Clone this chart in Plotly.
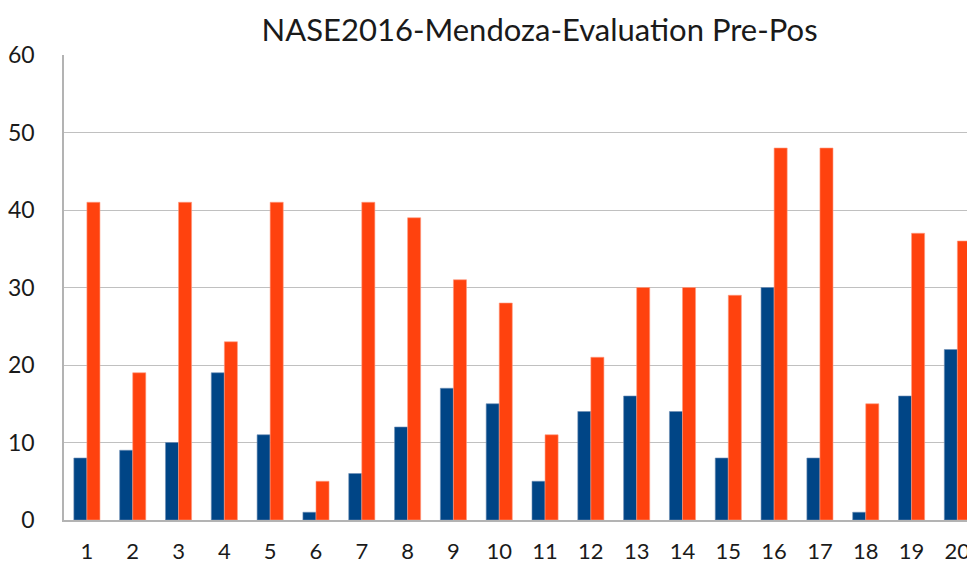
import plotly.graph_objects as go

categories = [str(i) for i in range(1, 21)]
pre_values = [8, 9, 10, 19, 11, 1, 6, 12, 17, 15, 5, 14, 16, 14, 8, 30, 8, 1, 16, 22]
pos_values = [41, 19, 41, 23, 41, 5, 41, 39, 31, 28, 11, 21, 30, 30, 29, 48, 48, 15, 37, 36]
y_ticks = [0, 10, 20, 30, 40, 50, 60]

x = list(range(1, 21))

fig = go.Figure()
fig.add_trace(go.Bar(x=x, y=pre_values, name="Pre", marker=dict(color="#004586", line=dict(color="#6f8fb5", width=0.6))))
fig.add_trace(go.Bar(x=x, y=pos_values, name="Pos", marker=dict(color="#ff420e", line=dict(color="#ff9a80", width=0.6))))

font_family = "Lato, 'Open Sans', sans-serif"
fig.update_layout(
    width=967, height=565,
    margin=dict(l=64, r=0, t=55, b=45, autoexpand=False),
    paper_bgcolor="white", plot_bgcolor="white",
    barmode="group", bargap=0.43, bargroupgap=0,
    showlegend=False,
    title=dict(text="NASE2016-Mendoza-Evaluation Pre-Pos", x=0.558, xanchor="center", y=0.947, yanchor="middle",
               font=dict(family=font_family, size=31, color="#1a1a1a")),
    font=dict(family=font_family, color="#1a1a1a"),
)
fig.update_xaxes(
    range=[0.5, 20.21], tickmode="array", tickvals=x, ticktext=categories, automargin=False,
    tickfont=dict(size=22, color="#1a1a1a"), ticks="", ticklabelstandoff=11,
    ticklabeloverflow="allow",
    showgrid=False, showline=True, linecolor="#b3b3b3", linewidth=1.5, zeroline=False,
)
fig.update_yaxes(
    range=[0, 60], tickmode="array", tickvals=y_ticks, automargin=False,
    tickfont=dict(size=23, color="#1a1a1a"), ticks="", ticklabelstandoff=23,
    showgrid=True, gridcolor="#c0c0c0", gridwidth=1.2,
    showline=True, linecolor="#b3b3b3", linewidth=1.5, zeroline=False,
)
fig.write_html(
    "out.html",
    config={"displayModeBar": False},
    post_script="document.body.style.margin='0';document.body.style.overflow='hidden';",
)
